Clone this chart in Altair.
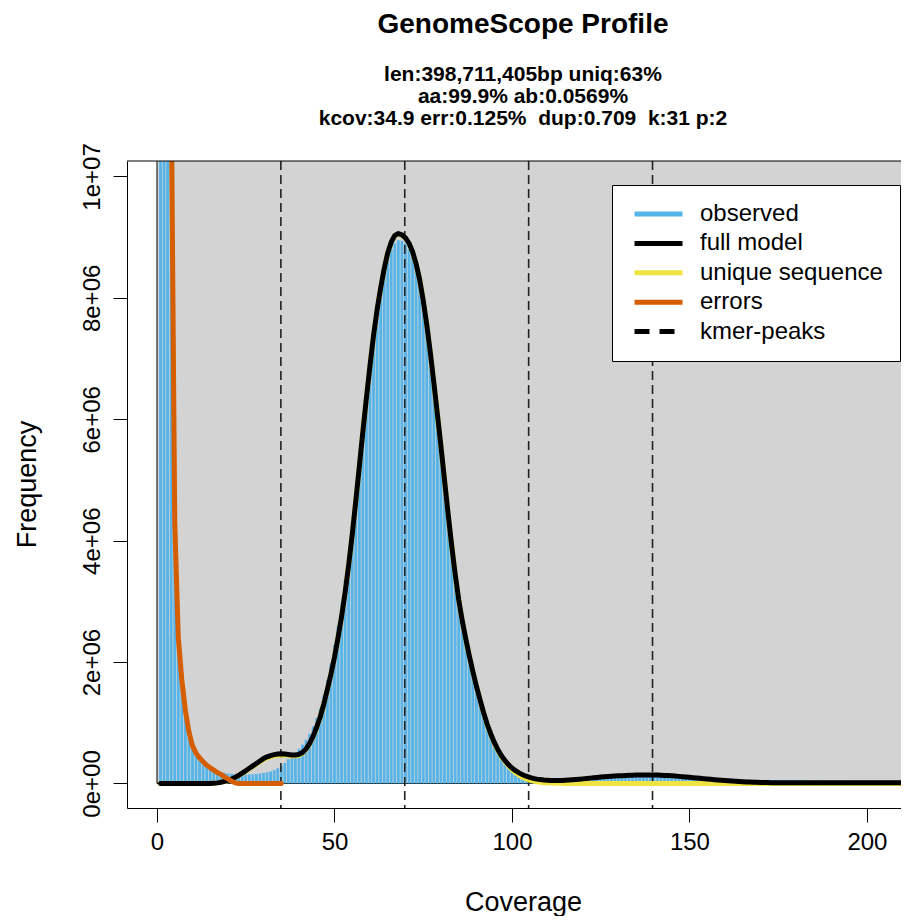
import altair as alt
import numpy as np
import pandas as pd

# ---------------- data ----------------
COVERAGE = list(range(1, 212))

# observed k-mer histogram, frequency in millions, coverage 1..211
OBSERVED_M = [
    60, 30, 16, 10.8, 4.6, 2.6, 1.8, 1.28, 0.92, 0.68,
    0.54, 0.45, 0.38, 0.32, 0.28, 0.24, 0.21, 0.19, 0.175, 0.165,
    0.16, 0.155, 0.15, 0.148, 0.148, 0.15, 0.152, 0.157, 0.165, 0.175,
    0.185, 0.2, 0.22, 0.25, 0.29, 0.34, 0.4, 0.45, 0.51, 0.57,
    0.64, 0.72, 0.82, 0.94, 1.08, 1.24, 1.45, 1.7, 1.98, 2.28,
    2.6, 2.96, 3.35, 3.75, 4.2, 4.72, 5.28, 5.85, 6.42, 6.95,
    7.42, 7.8, 8.1, 8.38, 8.6, 8.8, 8.9, 8.95, 8.94, 8.9,
    8.8, 8.66, 8.5, 8.24, 7.9, 7.5, 7.05, 6.56, 6.06, 5.52,
    4.97, 4.42, 3.9, 3.43, 3.02, 2.66, 2.36, 2.07, 1.81, 1.57,
    1.36, 1.16, 0.98, 0.82, 0.68, 0.56, 0.46, 0.37, 0.3, 0.25,
    0.2, 0.165, 0.14, 0.118, 0.1, 0.088, 0.078, 0.07, 0.066, 0.063,
    0.061, 0.06, 0.06, 0.061, 0.063, 0.066, 0.07, 0.075, 0.08, 0.085,
    0.09, 0.095, 0.1, 0.104, 0.108, 0.112, 0.115, 0.118, 0.121, 0.124,
    0.126, 0.128, 0.13, 0.131, 0.132, 0.133, 0.134, 0.134, 0.134, 0.133,
    0.132, 0.13, 0.128, 0.125, 0.122, 0.118, 0.114, 0.11, 0.106, 0.102,
    0.098, 0.094, 0.09, 0.087, 0.084, 0.081, 0.078, 0.075, 0.073, 0.071,
    0.069, 0.067, 0.066, 0.065, 0.064, 0.063, 0.062, 0.061, 0.06, 0.06,
    0.059, 0.058, 0.058, 0.057, 0.057, 0.056, 0.056, 0.055, 0.055, 0.054,
    0.054, 0.053, 0.053, 0.052, 0.052, 0.052, 0.051, 0.051, 0.05, 0.05,
    0.05, 0.049, 0.049, 0.049, 0.048, 0.048, 0.048, 0.047, 0.047, 0.047,
    0.046, 0.046, 0.046, 0.046, 0.045, 0.045, 0.045, 0.045, 0.044, 0.044, 0.044,
]

# full model (black), millions, coverage 1..211
FULL_MODEL_M = [0.0] * 15 + [
    0.005, 0.01, 0.02, 0.035, 0.05,
    0.075, 0.1, 0.135, 0.17, 0.21, 0.25, 0.29, 0.33, 0.37, 0.41,
    0.44, 0.46, 0.475, 0.485, 0.488, 0.485, 0.478, 0.47, 0.47, 0.48,
    0.51, 0.57, 0.66, 0.78, 0.93, 1.1, 1.31, 1.55, 1.8, 2.08,
    2.4, 2.75, 3.15, 3.6, 4.1, 4.65, 5.22, 5.8, 6.35, 6.88,
    7.38, 7.8, 8.16, 8.48, 8.74, 8.92, 9.03, 9.06, 9.04, 8.99,
    8.9, 8.76, 8.56, 8.3, 7.96, 7.56, 7.1, 6.6, 6.08, 5.55,
    5.0, 4.45, 3.93, 3.45, 3.03, 2.68, 2.38, 2.1, 1.84, 1.6,
    1.38, 1.17, 0.98, 0.82, 0.68, 0.56, 0.46, 0.38, 0.31, 0.255,
    0.21, 0.175, 0.145, 0.12, 0.1, 0.085, 0.072, 0.064, 0.058, 0.054,
    0.051, 0.05, 0.05, 0.051, 0.053, 0.056, 0.06, 0.065, 0.07, 0.076,
    0.082, 0.088, 0.094, 0.1, 0.105, 0.11, 0.115, 0.119, 0.123, 0.126,
    0.129, 0.132, 0.134, 0.136, 0.138, 0.139, 0.14, 0.14, 0.14, 0.139,
    0.138, 0.136, 0.133, 0.13, 0.126, 0.122, 0.117, 0.112, 0.107, 0.101,
    0.096, 0.09, 0.085, 0.079, 0.074, 0.068, 0.063, 0.058, 0.053, 0.048,
    0.044, 0.04, 0.036, 0.032, 0.029, 0.026, 0.023, 0.021, 0.019, 0.017,
    0.016, 0.015, 0.014, 0.013, 0.013, 0.012, 0.012, 0.011, 0.011, 0.011,
] + [0.01] * 31

# unique sequence (yellow), millions, coverage 1..211
UNIQUE_M = [0.0] * 15 + [
    0.005, 0.01, 0.019, 0.033, 0.047,
    0.071, 0.095, 0.129, 0.163, 0.201, 0.24, 0.278, 0.317, 0.355, 0.393,
    0.422, 0.442, 0.457, 0.467, 0.47, 0.467, 0.461, 0.454, 0.455, 0.466,
    0.497, 0.558, 0.65, 0.772, 0.924, 1.095, 1.305, 1.545, 1.795, 2.075,
    2.395, 2.745, 3.145, 3.595, 4.095, 4.645, 5.215, 5.795, 6.345, 6.875,
    7.375, 7.795, 8.155, 8.475, 8.735, 8.915, 9.025, 9.055, 9.035, 8.985,
    8.895, 8.755, 8.555, 8.295, 7.955, 7.555, 7.095, 6.595, 6.075, 5.545,
    4.995, 4.445, 3.925, 3.445, 3.025, 2.675, 2.375, 2.095, 1.835, 1.595,
    1.373, 1.163, 0.972, 0.81, 0.668, 0.546, 0.443, 0.36, 0.288, 0.228,
    0.178, 0.137, 0.103, 0.076, 0.056, 0.04, 0.028, 0.019, 0.013, 0.009,
    0.006, 0.004, 0.003, 0.002,
] + [0.0] * 97

ERROR_COVERAGE = list(range(1, 36))
ERRORS_M = [
    150, 45, 19, 11.5, 4.3, 2.4, 1.7, 1.2, 0.85, 0.62,
    0.5, 0.42, 0.36, 0.3, 0.26, 0.22, 0.18, 0.15, 0.11, 0.075,
    0.04, 0.01,
] + [0.0] * 13

KMER_PEAKS = [34.9, 69.8, 104.7, 139.6]
X_TICKS = [0, 50, 100, 150, 200]
Y_TICKS = [0, 2e6, 4e6, 6e6, 8e6, 1e7]

SERIES = ["observed", "full model", "unique sequence", "errors", "kmer-peaks"]
SERIES_COLORS = ["#56B4E9", "#000000", "#F0E442", "#D55E00", "#000000"]
SERIES_DASH = [[1, 0], [1, 0], [1, 0], [1, 0], [15, 10]]

TITLE = "GenomeScope Profile"
SUBTITLE = [
    "len:398,711,405bp uniq:63%",
    "aa:99.9% ab:0.0569%",
    "kcov:34.9 err:0.125%\u00a0 dup:0.709\u00a0 k:31 p:2",
]

# ---------------- tables ----------------
M = 1e6
hist_df = pd.DataFrame({"coverage": COVERAGE, "frequency": np.array(OBSERVED_M) * M})
model_df = pd.DataFrame({"coverage": COVERAGE, "frequency": np.array(FULL_MODEL_M) * M})
unique_df = pd.DataFrame({"coverage": COVERAGE, "frequency": np.array(UNIQUE_M) * M})
err_df = pd.DataFrame({"coverage": ERROR_COVERAGE, "frequency": np.array(ERRORS_M) * M})
peaks_df = pd.DataFrame({"coverage": KMER_PEAKS})
legend_df = pd.DataFrame({"series": SERIES, "coverage": [None] * 5, "frequency": [None] * 5})
one_df = pd.DataFrame({"k": [0]})

# ---------------- scales / axes ----------------
XMIN, XMAX = -8.45, 209.6
YMIN, YMAX = -0.404e6, 10.255e6
BG_X2, BG_Y2 = 260, 12e6
FONT = "Liberation Sans"

x_scale = alt.Scale(domain=[XMIN, XMAX], nice=False, zero=False)
y_scale = alt.Scale(domain=[YMIN, YMAX], nice=False, zero=False)

x_axis = alt.Axis(
    values=X_TICKS, title="Coverage", grid=False, format="d",
    tickSize=14, tickColor="black", tickWidth=1,
    domainColor="black", domainWidth=1,
    labelFont=FONT, labelFontSize=24, labelColor="black", labelPadding=8,
    labelFlush=False, labelOverlap=False, labelBaseline="top",
    titleFont=FONT, titleFontSize=27, titleFontWeight="normal", titleColor="black",
    titleX=396, titleY=102, titleAlign="center", titleBaseline="alphabetic",
)
y_axis = alt.Axis(
    values=Y_TICKS, title="Frequency", grid=False,
    labelExpr="datum.value == 0 ? '0e+00' : (datum.value < 9e6 ? format(datum.value / 1e6, 'd') + 'e+06' : '1e+07')",
    tickSize=14, tickColor="black", tickWidth=1,
    domainColor="black", domainWidth=1,
    labelFont=FONT, labelFontSize=24, labelColor="black", labelPadding=9,
    labelAngle=270, labelAlign="center", labelBaseline="bottom",
    labelFlush=False, labelOverlap=False,
    titleFont=FONT, titleFontSize=27, titleFontWeight="normal", titleColor="black",
    titleAngle=270, titleX=-100, titleY=323, titleAlign="center", titleBaseline="middle",
)


def X(field):
    return alt.X(field, type="quantitative", scale=x_scale, axis=x_axis)


def Y(field):
    return alt.Y(field, type="quantitative", scale=y_scale, axis=y_axis)


background = alt.Chart(one_df).mark_rect(
    fill="#D3D3D3", stroke="black", strokeWidth=1, clip=True
).encode(
    x=alt.X(datum=0, type="quantitative", scale=x_scale, axis=x_axis),
    x2=alt.datum(BG_X2),
    y=alt.Y(datum=0, type="quantitative", scale=y_scale, axis=y_axis),
    y2=alt.datum(BG_Y2),
)

bars = alt.Chart(hist_df).mark_rule(color="#56B4E9", strokeWidth=2.8, clip=True).encode(
    x=X("coverage"), y=Y("frequency"), y2=alt.datum(0)
)

peaks = alt.Chart(peaks_df).mark_rule(
    color="#222222", strokeWidth=1.6, strokeDash=[9, 5]
).encode(x=X("coverage"))

line_kw = dict(strokeWidth=5, clip=True, strokeJoin="round", strokeCap="round")
unique_line = alt.Chart(unique_df).mark_line(color="#F0E442", **line_kw).encode(
    x=X("coverage"), y=Y("frequency")
)
model_line = alt.Chart(model_df).mark_line(color="#000000", **line_kw).encode(
    x=X("coverage"), y=Y("frequency")
)
error_line = alt.Chart(err_df).mark_line(color="#D55E00", **line_kw).encode(
    x=X("coverage"), y=Y("frequency")
)

top_frame = alt.Chart(one_df).mark_rule(color="black", strokeWidth=1).encode(
    x=alt.X(datum=XMIN, type="quantitative", scale=x_scale, axis=x_axis),
    x2=alt.datum(XMAX),
    y=alt.Y(datum=YMAX, type="quantitative", scale=y_scale, axis=y_axis),
)

legend = alt.Legend(
    title=None, orient="none", legendX=485, legendY=24,
    fillColor="white", strokeColor="black", padding=17,
    labelFont=FONT, labelFontSize=24, labelColor="black", labelOffset=15, labelLimit=400,
    symbolType="stroke", symbolSize=2304, symbolStrokeWidth=5, symbolOffset=3,
    clipHeight=24, rowPadding=5.4,
)
legend_layer = alt.Chart(legend_df).mark_line(strokeWidth=5).encode(
    x=X("coverage"),
    y=Y("frequency"),
    color=alt.Color("series:N", scale=alt.Scale(domain=SERIES, range=SERIES_COLORS), legend=legend),
    strokeDash=alt.StrokeDash("series:N", scale=alt.Scale(domain=SERIES, range=SERIES_DASH), legend=legend),
)

chart = alt.layer(
    background, bars, peaks, unique_line, model_line, error_line, top_frame, legend_layer
).properties(
    width=774,
    height=647,
    autosize=alt.AutoSizeParams(type="none"),
    padding={"left": 119, "top": 153, "right": 0, "bottom": 108},
    background="white",
    title=alt.TitleParams(
        text=TITLE, subtitle=SUBTITLE, anchor="middle", frame="group",
        font=FONT, fontSize=28, fontWeight="bold", color="black",
        subtitleFont=FONT, subtitleFontSize=21, subtitleFontWeight="bold",
        subtitleColor="black", subtitleLineHeight=22, subtitlePadding=25,
        offset=14, dx=9,
    ),
).configure_view(stroke=None)

chart.save("out.html", embed_options={"renderer": "svg", "actions": False})
